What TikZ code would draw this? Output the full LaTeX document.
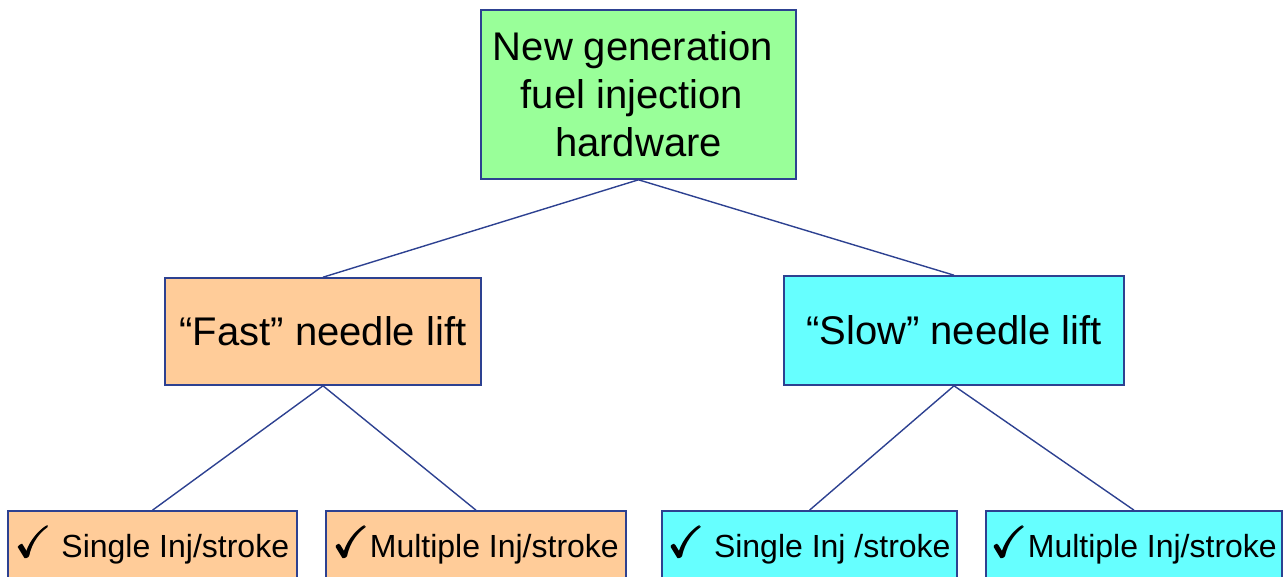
\documentclass[tikz,border=0pt]{standalone}
\usepackage{amsmath}
\usepackage{amssymb}
\usepackage{fontspec}
\setmainfont{Liberation Sans}
\definecolor{edgeblue}{RGB}{45,65,145}
\definecolor{topgreen}{RGB}{153,255,153}
\definecolor{fastorange}{RGB}{255,204,153}
\definecolor{slowcyan}{RGB}{102,255,255}
\newcommand{\chkmark}{{\fontsize{44}{44}\selectfont$\pmb{\checkmark}$}}
\begin{document}
\begin{tikzpicture}[x=1pt,y=-1pt,
	box/.style={draw=edgeblue,line width=1.6pt,inner sep=0pt,align=center},
	bigtext/.style={font=\fontsize{40}{48}\selectfont},
	smalltext/.style={font=\fontsize{32}{36}\selectfont},
	link/.style={draw=edgeblue,line width=1.4pt}]
	\useasboundingbox (0,0) rectangle (1288,577);
	\clip (0,0) rectangle (1288,577);
	\node[box,bigtext,fill=topgreen,minimum width=315pt,minimum height=169pt] (hw) at (638.5,94.5) {New generation\rule{11pt}{0pt}\\fuel injection\rule{13pt}{0pt}\\hardware};
	\node[box,bigtext,fill=fastorange,minimum width=316pt,minimum height=107pt] (fast) at (323,331.5) {“Fast” needle lift};
	\node[box,bigtext,fill=slowcyan,minimum width=340pt,minimum height=109pt] (slow) at (954,330.5) {“Slow” needle lift};
	\node[box,smalltext,fill=fastorange,minimum width=289pt,minimum height=68pt] (fastsingle) at (152.5,545) {\chkmark\ Single Inj/stroke};
	\node[box,smalltext,fill=fastorange,minimum width=300pt,minimum height=68pt] (fastmulti) at (476,545) {\chkmark Multiple Inj/stroke};
	\node[box,smalltext,fill=slowcyan,minimum width=295pt,minimum height=68pt] (slowsingle) at (809.5,545) {\chkmark\ Single Inj /stroke};
	\node[box,smalltext,fill=slowcyan,minimum width=296pt,minimum height=68pt] (slowmulti) at (1134,545) {\chkmark Multiple Inj/stroke};
	\draw[link] (hw.south) -- (fast.north);
	\draw[link] (hw.south) -- (slow.north);
	\draw[link] (fast.south) -- (fastsingle.north);
	\draw[link] (fast.south) -- (fastmulti.north);
	\draw[link] (slow.south) -- (slowsingle.north);
	\draw[link] (slow.south) -- (slowmulti.north);
\end{tikzpicture}
\end{document}
